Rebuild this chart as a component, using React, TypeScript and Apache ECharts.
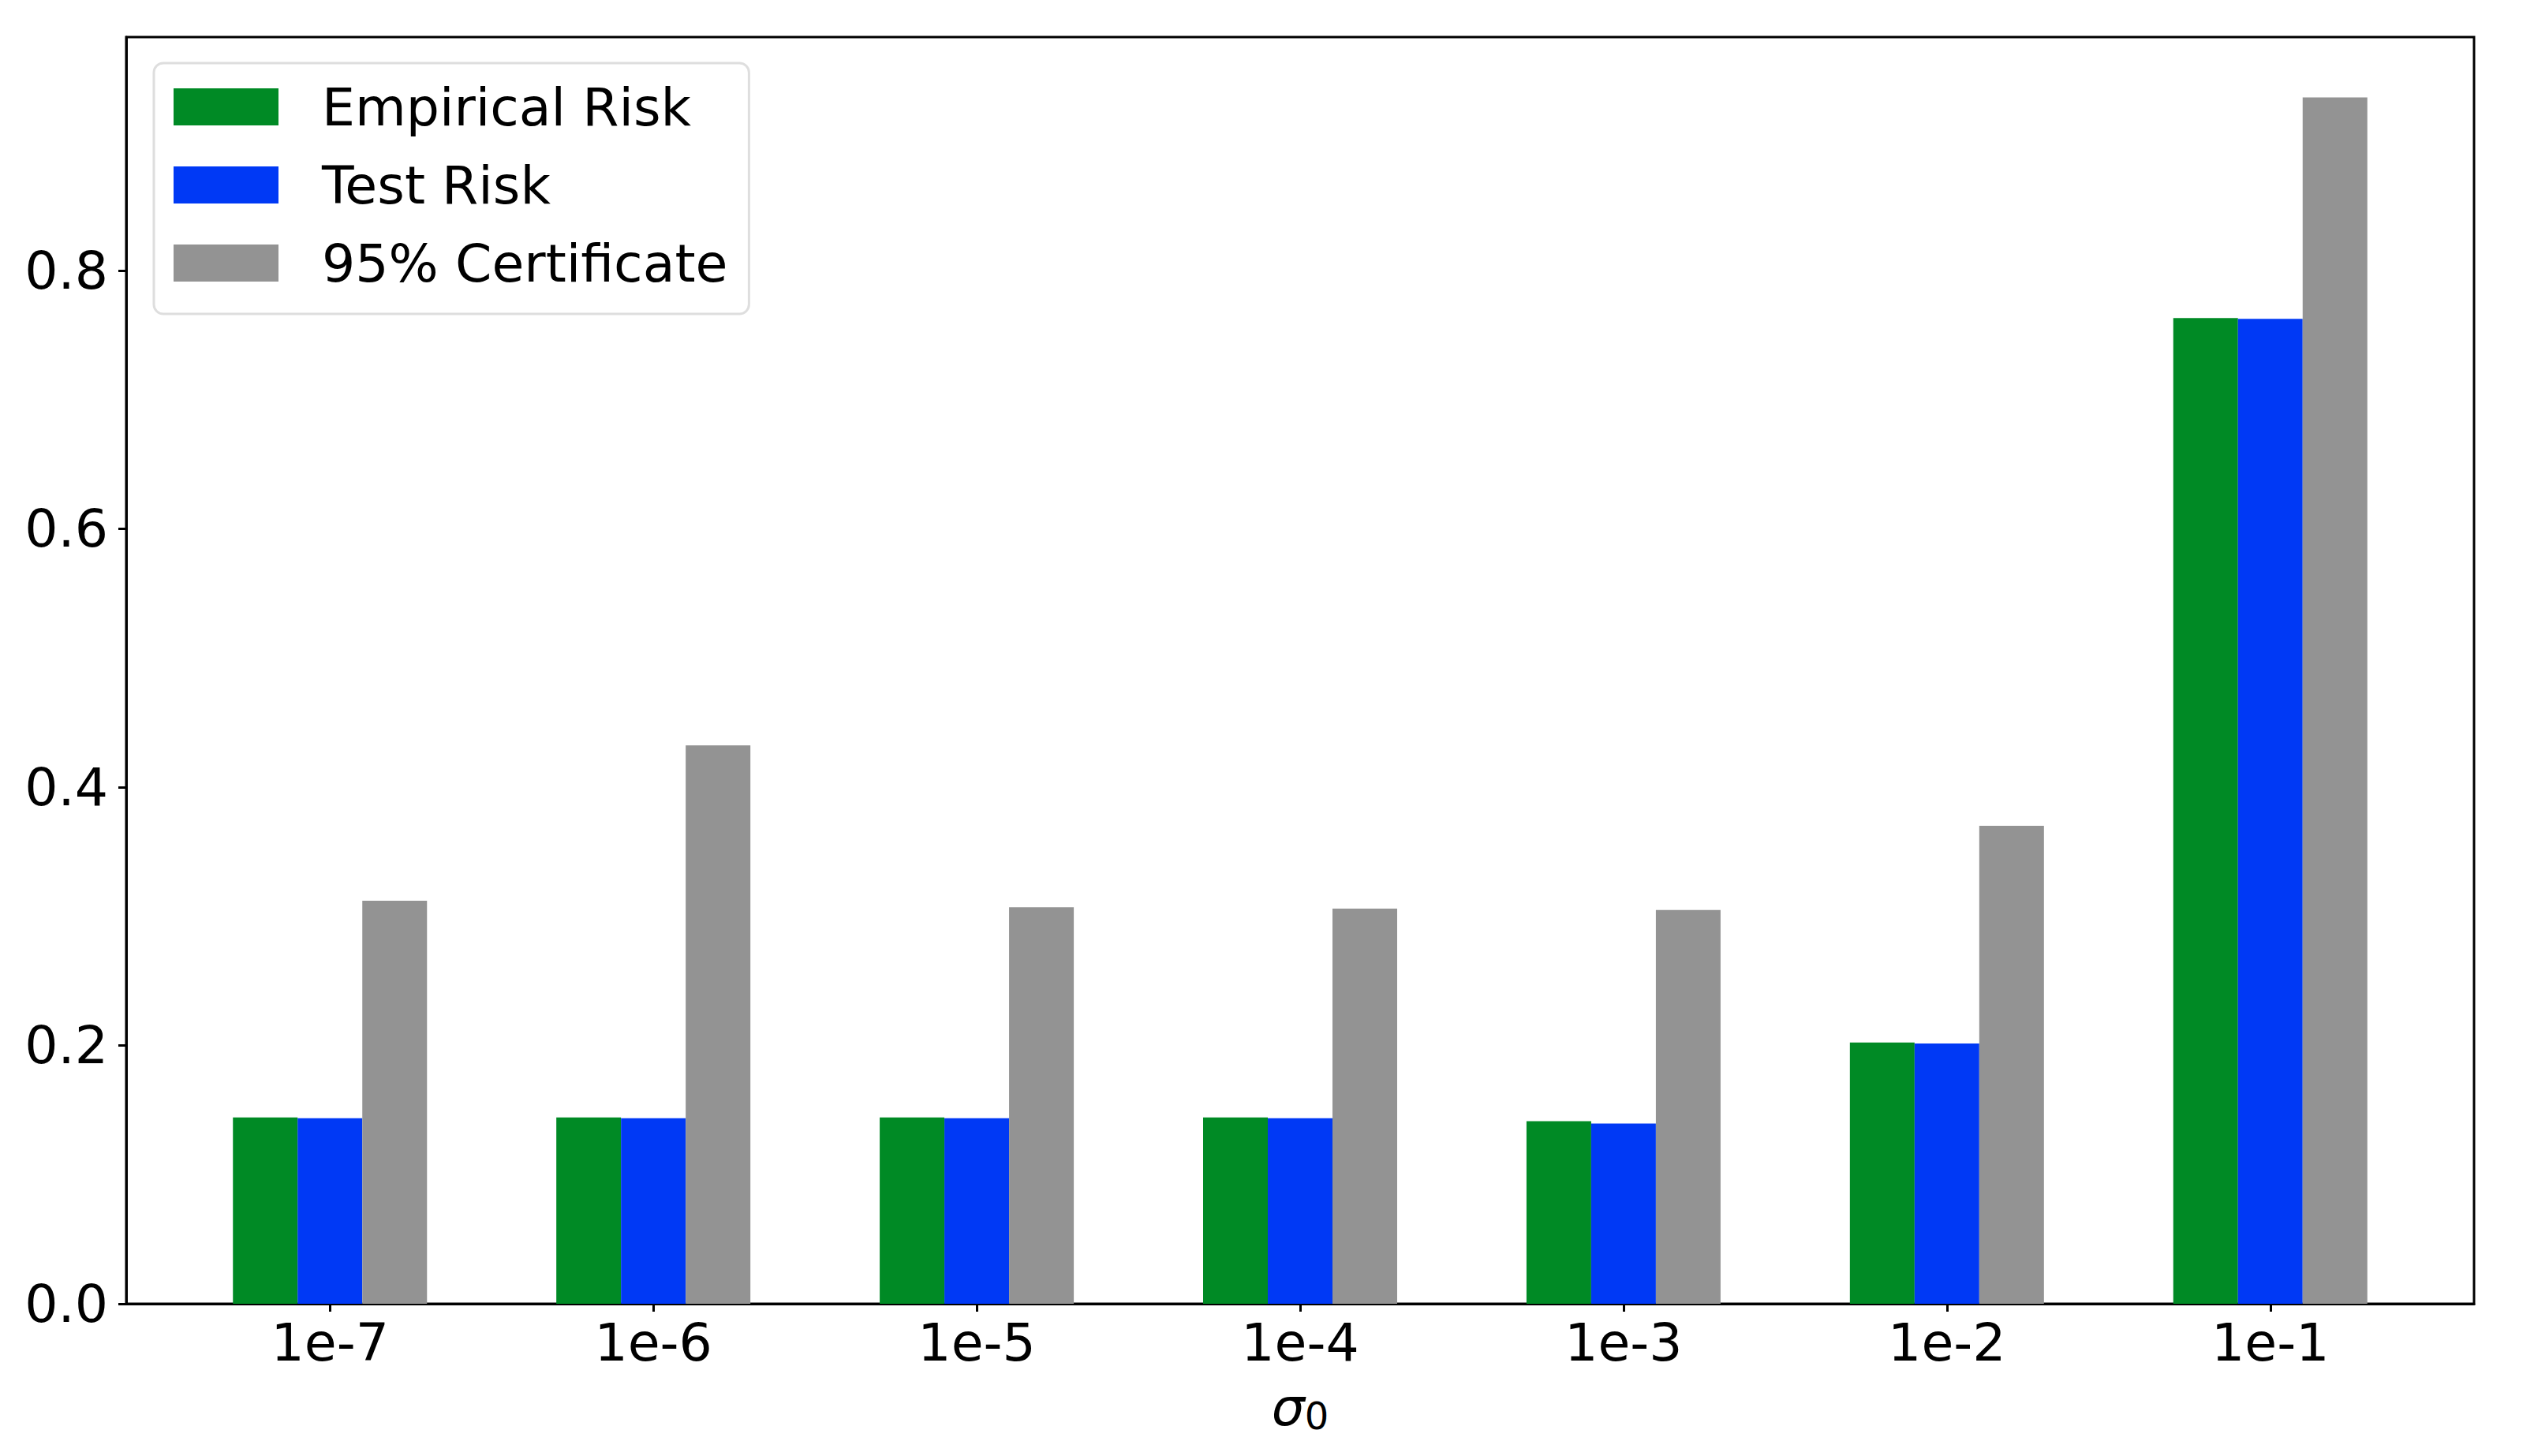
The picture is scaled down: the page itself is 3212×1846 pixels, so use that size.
import React, { useEffect, useRef } from "react";
import * as echarts from "echarts";

const categories = ["1e-7", "1e-6", "1e-5", "1e-4", "1e-3", "1e-2", "1e-1"];
const empiricalRisk = [0.1443, 0.1443, 0.1443, 0.1443, 0.1414, 0.2023, 0.7632];
const testRisk = [0.1436, 0.1436, 0.1436, 0.1436, 0.1395, 0.2015, 0.7626];
const certificate = [0.312, 0.4323, 0.307, 0.306, 0.3048, 0.3701, 0.934];
const yTicks = [0, 0.2, 0.4, 0.6, 0.8];
const seriesNames = ["Empirical Risk", "Test Risk", "95% Certificate"];
const seriesColors = ["#008a25", "#0039f5", "#939393"];

const FONT = "DejaVu Sans";
const FS = 66.5;

export default function App() {
  const ref = useRef<HTMLDivElement>(null);
  useEffect(() => {
    if (!ref.current) return;
    const chart = echarts.init(ref.current, null, { renderer: "svg" });
    const xs = categories.map((_, i) => i);
    const seriesData = [empiricalRisk, testRisk, certificate];
    chart.setOption({
      animation: false,
      backgroundColor: "#ffffff",
      grid: {
        left: 160,
        right: 76,
        top: 47,
        bottom: 193,
        show: true,
        borderColor: "#000",
        borderWidth: 3,
        backgroundColor: "transparent",
      },
      legend: {
        orient: "vertical",
        left: 195,
        top: 80,
        itemWidth: 133,
        itemHeight: 47,
        itemGap: 32,
        icon: "rect",
        padding: [22, 27, 31, 25],
        borderColor: "#dedede",
        borderWidth: 3,
        borderRadius: 12,
        backgroundColor: "#ffffff",
        textStyle: {
          fontFamily: FONT,
          fontSize: FS,
          color: "#000",
          padding: [0, 0, 0, 50],
        },
        data: seriesNames,
      },
      xAxis: {
        type: "value",
        min: -0.63,
        max: 6.63,
        name: "{s|σ}{sub|0}",
        nameLocation: "middle",
        nameGap: 96,
        nameTextStyle: {
          rich: {
            s: { fontFamily: FONT, fontSize: FS, fontStyle: "italic", color: "#000" },
            sub: { fontFamily: FONT, fontSize: 48, color: "#000", verticalAlign: "bottom", padding: [22, 0, 0, 0] },
          },
        },
        axisLine: { show: true, onZero: false, lineStyle: { color: "#000", width: 3 } },
        axisTick: { show: true, length: 10, lineStyle: { color: "#000", width: 3 }, customValues: xs },
        axisLabel: {
          customValues: xs,
          formatter: (v: number) => categories[Math.round(v)] ?? "",
          fontFamily: FONT,
          fontSize: FS,
          color: "#000",
          margin: 15,
        },
        splitLine: { show: false },
      },
      yAxis: {
        type: "value",
        min: 0,
        max: 0.9807,
        axisLine: { show: true, onZero: false, lineStyle: { color: "#000", width: 3 } },
        axisTick: { show: true, length: 10, lineStyle: { color: "#000", width: 3 }, customValues: yTicks },
        axisLabel: {
          customValues: yTicks,
          formatter: (v: number) => v.toFixed(1),
          fontFamily: FONT,
          fontSize: FS,
          color: "#000",
          margin: 23,
        },
        splitLine: { show: false },
      },
      series: seriesNames.map((name, k) => ({
        name,
        type: "bar",
        barWidth: 82,
        barGap: "0%",
        itemStyle: { color: seriesColors[k] },
        data: seriesData[k].map((v, i) => [i, v]),
      })),
    });
    return () => chart.dispose();
  }, []);
  return (
    <div
      ref={ref}
      style={{ position: "fixed", left: 0, top: 0, width: 3212, height: 1846, background: "#fff" }}
    />
  );
}
